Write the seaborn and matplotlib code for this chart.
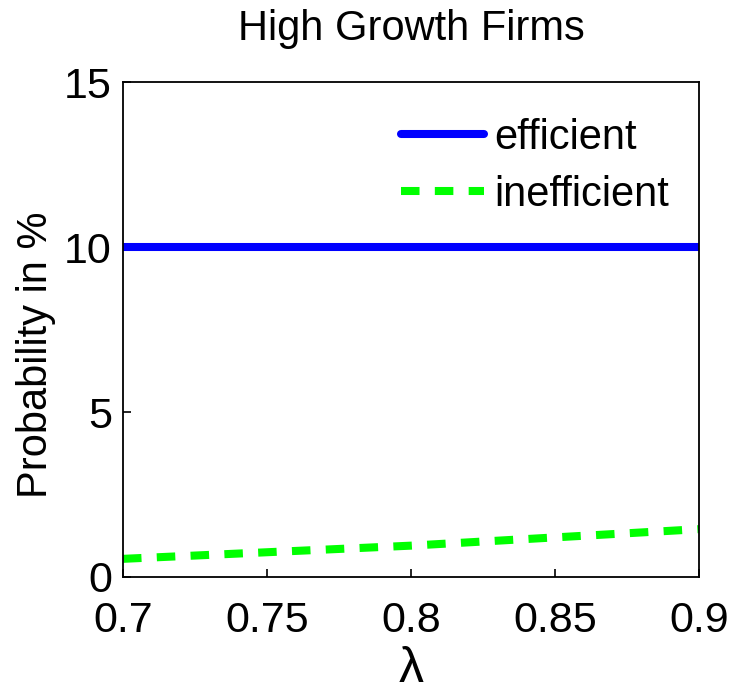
import pandas as pd
import matplotlib
matplotlib.use("Agg")
import matplotlib.pyplot as plt
import seaborn as sns

lam = [0.70, 0.75, 0.80, 0.85, 0.90]
efficient = [10.0, 10.0, 10.0, 10.0, 10.0]
inefficient = [0.55, 0.75, 0.95, 1.20, 1.45]

df = pd.DataFrame({"lam": lam + lam,
                   "prob": efficient + inefficient,
                   "kind": ["efficient"] * len(lam) + ["inefficient"] * len(lam)})

sns.set_theme(style="white")
plt.rcParams["font.family"] = ["Liberation Sans", "DejaVu Sans"]
plt.rcParams["text.color"] = "black"
plt.rcParams["axes.labelcolor"] = "black"

fig = plt.figure(figsize=(7.48, 6.94), dpi=100)
ax = fig.add_axes([0.1644, 0.1686, 0.7701, 0.7132])

sns.lineplot(data=df, x="lam", y="prob", hue="kind", style="kind",
             palette={"efficient": "#0000ff", "inefficient": "#00ff00"},
             dashes={"efficient": "", "inefficient": (2.3, 1.9)},
             linewidth=5.8, ax=ax)

ax.set_xlim(0.7, 0.9)
ax.set_ylim(0, 15)
ax.set_xticks([0.7, 0.75, 0.8, 0.85, 0.9])
ax.set_xticklabels(["0.7", "0.75", "0.8", "0.85", "0.9"])
ax.set_yticks([0, 5, 10, 15])
ax.tick_params(axis="both", labelsize=31, direction="in", length=6, width=1.2,
               colors="black", bottom=True, left=True)
ax.tick_params(axis="x", pad=17)
ax.tick_params(axis="y", pad=8)
for s in ax.spines.values():
    s.set_color("black")
    s.set_linewidth(1.3)

ax.set_title("High Growth Firms", fontsize=30, pad=30, color="black")
ax.set_ylabel("Probability in %", fontsize=30)
ax.yaxis.set_label_coords(-0.117, 0.45)
ax.set_xlabel("λ", fontsize=36, labelpad=4)

# legend without frame, top right like the matlab one
leg = ax.legend(loc="upper right", frameon=False, fontsize=30,
                handlelength=2.0, handletextpad=0.25,
                bbox_to_anchor=(0.977, 0.961), borderaxespad=0.0,
                labelspacing=0.4)

fig.savefig("out.png", dpi=100)
